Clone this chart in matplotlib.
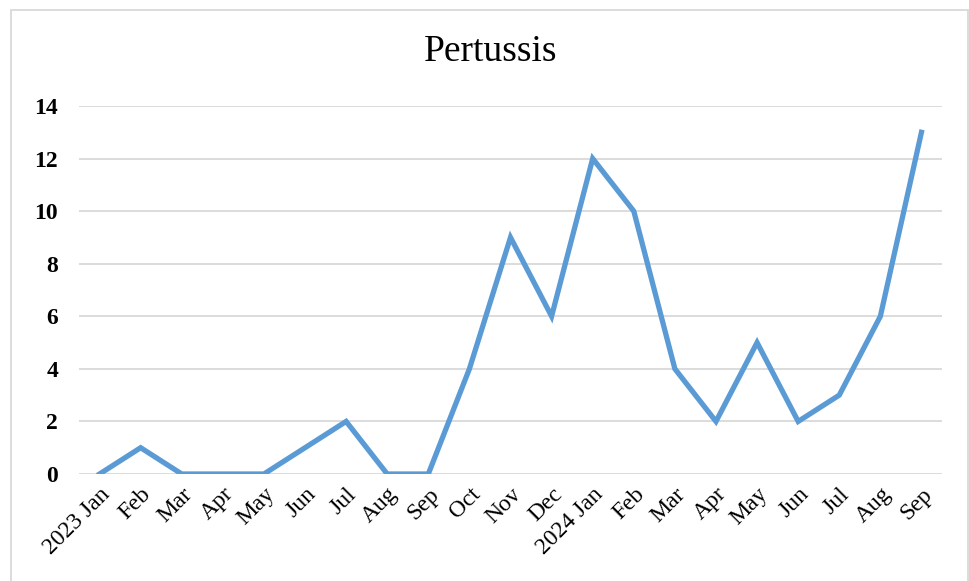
import matplotlib
matplotlib.use("Agg")
import matplotlib.pyplot as plt
from matplotlib.patches import Rectangle

months = ["2023 Jan", "Feb", "Mar", "Apr", "May", "Jun", "Jul", "Aug", "Sep", "Oct",
          "Nov", "Dec", "2024 Jan", "Feb", "Mar", "Apr", "May", "Jun", "Jul", "Aug", "Sep"]
cases = [0, 1, 0, 0, 0, 1, 2, 0, 0, 4, 9, 6, 12, 10, 4, 2, 5, 2, 3, 6, 13]
yticks = [0, 2, 4, 6, 8, 10, 12, 14]

plt.rcParams['font.family'] = ['Liberation Serif', 'DejaVu Serif']

fig = plt.figure(figsize=(9.7, 5.81), dpi=100)
ax = fig.add_axes([79/970, 1 - 474/581, (942 - 79)/970, (474 - 106)/581])

x = list(range(len(months)))
ax.plot(x, cases, color='#5B9BD5', linewidth=3.8, solid_joinstyle='miter', zorder=3)

ax.set_xlim(-0.5, len(months) - 0.5)
ax.set_ylim(0, 14)
ax.set_yticks(yticks)
ax.set_yticklabels([str(v) for v in yticks], fontsize=17, fontweight='bold')
ax.set_xticks(x)
ax.set_xticklabels(months, rotation=45, ha='right', rotation_mode='anchor', fontsize=17)
ax.tick_params(axis='both', length=0)
ax.tick_params(axis='y', pad=15)
ax.tick_params(axis='x', pad=7)
ax.grid(axis='y', color='#D9D9D9', linewidth=1.3)
ax.set_axisbelow(True)
for s in ax.spines.values():
    s.set_visible(False)

fig.text(491/970, 1 - 52/581, "Pertussis", ha='center', va='center', fontsize=27)

fig.patches.append(Rectangle((11/970, -0.05), (968 - 11)/970, 1.05 - 10/581,
                             transform=fig.transFigure, fill=False,
                             edgecolor='#D9D9D9', linewidth=1.3))

fig.savefig("out.png", dpi=100)
